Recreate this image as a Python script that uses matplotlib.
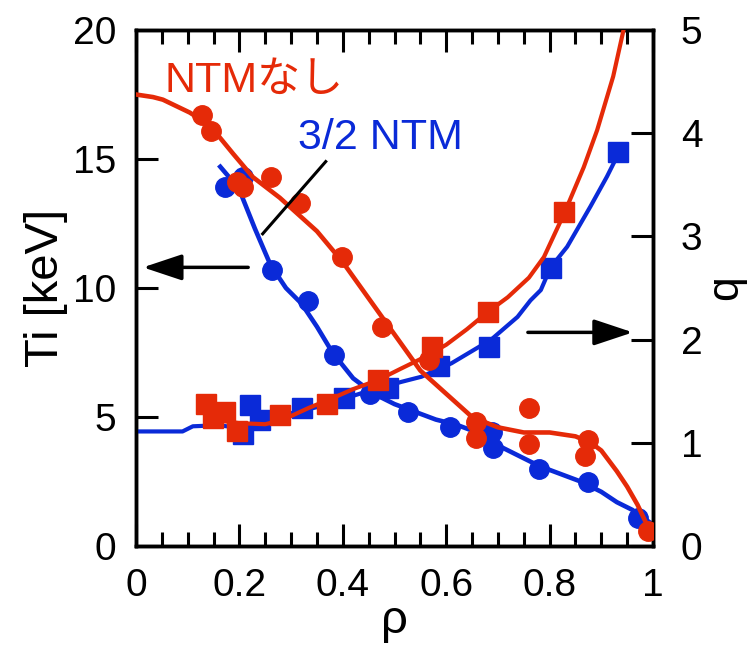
import numpy as np
import matplotlib.pyplot as plt

plt.rcParams['font.family'] = ['Liberation Sans', 'Noto Sans CJK JP', 'DejaVu Sans']

RED = '#e52a08'
BLUE = '#0a2ad8'

# Ti profiles (left axis)
ti_red_line_x = [0, 0.033, 0.052, 0.104, 0.143, 0.188, 0.226, 0.278, 0.35, 0.4, 0.45, 0.5,
                 0.55, 0.6, 0.65, 0.7, 0.75, 0.8, 0.85, 0.88, 0.9, 0.93, 0.95, 0.97, 0.99, 1.0]
ti_red_line_y = [17.5, 17.4, 17.3, 16.8, 16.3, 15.2, 14.3, 13.5, 12.2, 11.0, 9.6, 8.2,
                 6.8, 5.9, 5.0, 4.6, 4.4, 4.4, 4.25, 4.0, 3.7, 2.9, 2.3, 1.6, 0.75, 0.5]
ti_red_pts_x = [0.127, 0.146, 0.196, 0.206, 0.262, 0.317, 0.398, 0.475, 0.567, 0.658,
                0.658, 0.76, 0.76, 0.875, 0.869, 0.99]
ti_red_pts_y = [16.7, 16.1, 14.1, 13.9, 14.3, 13.3, 11.2, 8.5, 7.2, 4.8,
                4.2, 5.35, 3.95, 4.1, 3.5, 0.6]

ti_blue_line_x = [0.163, 0.18, 0.2, 0.23, 0.26, 0.29, 0.32, 0.35, 0.38, 0.42, 0.46, 0.5, 0.54,
                  0.58, 0.62, 0.66, 0.7, 0.74, 0.78, 0.82, 0.86, 0.9, 0.93, 0.96, 0.98, 0.995]
ti_blue_line_y = [14.7, 14.3, 13.8, 12.3, 10.9, 10.0, 9.4, 8.5, 7.5, 6.5, 5.9, 5.5, 5.2,
                  4.9, 4.7, 4.4, 3.9, 3.5, 3.1, 2.8, 2.5, 2.1, 1.7, 1.4, 1.1, 0.9]
ti_blue_pts_x = [0.173, 0.206, 0.263, 0.333, 0.383, 0.452, 0.527, 0.608, 0.688, 0.69,
                 0.779, 0.875, 0.971]
ti_blue_pts_y = [13.9, 14.3, 10.7, 9.5, 7.4, 5.9, 5.2, 4.6, 4.4, 3.8, 3.0, 2.5, 1.1]

# q profiles (right axis)
q_red_line_x = [0.135, 0.17, 0.2, 0.25, 0.283, 0.335, 0.379, 0.42, 0.469, 0.513, 0.558, 0.6,
                0.64, 0.681, 0.719, 0.76, 0.789, 0.828, 0.866, 0.892, 0.923, 0.943]
q_red_line_y = [1.25, 1.21, 1.19, 1.18, 1.22, 1.34, 1.43, 1.52, 1.61, 1.72, 1.83, 1.95,
                2.1, 2.27, 2.41, 2.6, 2.8, 3.22, 3.67, 4.03, 4.55, 5.0]
q_red_pts_x = [0.135, 0.148, 0.173, 0.196, 0.279, 0.369, 0.469, 0.573, 0.681, 0.827]
q_red_pts_y = [1.38, 1.24, 1.30, 1.11, 1.27, 1.38, 1.61, 1.93, 2.27, 3.24]

q_blue_line_x = [0, 0.09, 0.11, 0.16, 0.206, 0.25, 0.302, 0.354, 0.404, 0.442, 0.513, 0.552,
                 0.61, 0.687, 0.738, 0.763, 0.783, 0.802, 0.834, 0.879, 0.911, 0.93]
q_blue_line_y = [1.11, 1.11, 1.16, 1.17, 1.14, 1.17, 1.29, 1.35, 1.43, 1.49, 1.59, 1.64,
                 1.77, 2.0, 2.22, 2.38, 2.48, 2.7, 2.9, 3.29, 3.58, 3.77]
q_blue_pts_x = [0.206, 0.221, 0.24, 0.321, 0.402, 0.488, 0.587, 0.683, 0.802, 0.933]
q_blue_pts_y = [1.09, 1.37, 1.22, 1.34, 1.43, 1.53, 1.74, 1.93, 2.69, 3.82]

fig = plt.figure(figsize=(7.47, 6.45), dpi=100)
ax = fig.add_axes([136/747, 99/645, 517/747, 516/645])
ax2 = ax.twinx()

ms = 14
ax.plot(ti_blue_line_x, ti_blue_line_y, color=BLUE, lw=3.3, zorder=2)
ax.plot(ti_blue_pts_x, ti_blue_pts_y, 'o', color=BLUE, ms=ms, zorder=2)
ax2.plot(q_blue_line_x, q_blue_line_y, color=BLUE, lw=3, zorder=2)
ax2.plot(q_blue_pts_x, q_blue_pts_y, 's', color=BLUE, ms=ms, zorder=2)
ax2.plot(q_red_line_x, q_red_line_y, color=RED, lw=3, zorder=3)
ax2.plot(q_red_pts_x, q_red_pts_y, 's', color=RED, ms=ms, zorder=3)
ax2.plot(ti_red_line_x, np.array(ti_red_line_y) / 4, color=RED, lw=3.3, zorder=3)
ax2.plot(ti_red_pts_x, np.array(ti_red_pts_y) / 4, 'o', color=RED, ms=ms, zorder=3)

ax.set_xlim(0, 1)
ax.set_ylim(0, 20)
ax2.set_ylim(0, 5)
ax2.set_xlim(0, 1)

ax.set_xticks(np.arange(0, 1.01, 0.2))
ax.set_xticklabels(['0', '0.2', '0.4', '0.6', '0.8', '1'])
ax.set_xticks(np.arange(0, 1.01, 0.05), minor=True)
ax.set_yticks([0, 5, 10, 15, 20])
ax2.set_yticks([0, 1, 2, 3, 4, 5])

ax.tick_params(axis='x', which='major', direction='in', top=True, length=16, width=2.2,
               labelsize=28, pad=16)
ax.tick_params(axis='x', which='minor', direction='in', top=True, length=10, width=2.2)
ax.tick_params(axis='y', direction='in', right=False, length=16, width=2.2, labelsize=28, pad=14)
ax2.tick_params(axis='y', direction='in', length=16, width=2.2, labelsize=28, pad=20)
for a in (ax, ax2):
    for s in a.spines.values():
        s.set_linewidth(2.5)

ax.set_xlabel('ρ', fontsize=34, labelpad=-4)
ax.set_ylabel('Ti [keV]', fontsize=34, labelpad=4)
ax2.set_ylabel('q', fontsize=32, labelpad=2)

ax2.text(0.056, 17.6 / 4, 'NTMなし', color=RED, fontsize=31, va='baseline')
ax2.text(0.313, 15.4 / 4, '3/2 NTM', color=BLUE, fontsize=31, va='baseline')
ax2.plot([0.367, 0.245], [14.9 / 4, 12.1 / 4], color='k', lw=2.2, zorder=4)

arrow = dict(arrowstyle='-|>,head_length=1.2,head_width=0.4', lw=2.5, color='k',
             mutation_scale=20, shrinkA=0, shrinkB=0)
ax2.annotate('', xy=(0.0135, 10.8 / 4), xytext=(0.217, 10.8 / 4), arrowprops=arrow)
ax2.annotate('', xy=(0.961, 2.07), xytext=(0.758, 2.07), arrowprops=arrow)

fig.savefig('out.png', dpi=100)
